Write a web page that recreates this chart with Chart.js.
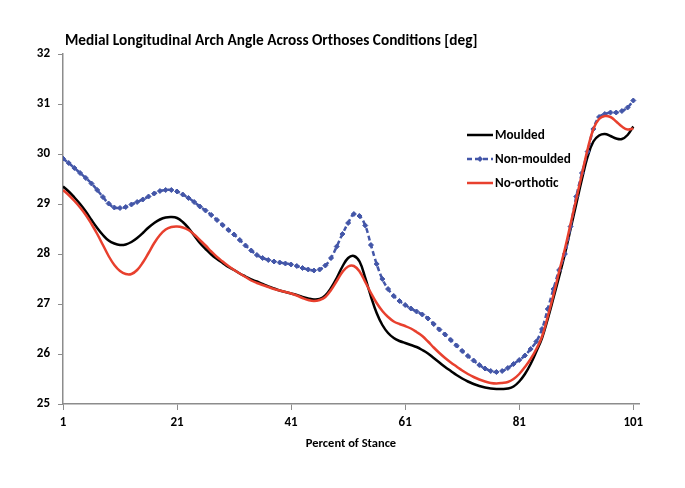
<!DOCTYPE html>
<html>
<head>
<meta charset="utf-8">
<script src="https://cdn.jsdelivr.net/npm/chart.js@4/dist/chart.umd.min.js"></script>
<style>
  html, body { margin: 0; padding: 0; background: #fff; }
  #wrap { width: 685px; height: 488px; }
</style>
</head>
<body>
<div id="wrap"><canvas id="chart" width="685" height="488"></canvas></div>
<script>
// Percent of stance, 1..101
const stance = Array.from({ length: 101 }, (_, i) => i + 1);
const xTickLabels = [1, 21, 41, 61, 81, 101];
const yTickRange = [25, 32];

const moulded = [
  29.35, 29.25, 29.13, 29.00, 28.85, 28.68, 28.52, 28.38, 28.27, 28.21,
  28.18, 28.19, 28.24, 28.32, 28.42, 28.53, 28.62, 28.69, 28.73, 28.74,
  28.72, 28.64, 28.52, 28.37, 28.22, 28.10, 27.99, 27.90, 27.82, 27.74,
  27.68, 27.61, 27.55, 27.49, 27.45, 27.40, 27.35, 27.31, 27.27, 27.24,
  27.21, 27.18, 27.14, 27.11, 27.09, 27.10, 27.17, 27.32, 27.52, 27.75,
  27.92, 27.96, 27.85, 27.52, 27.15, 26.82, 26.58, 26.42, 26.32, 26.26,
  26.22, 26.18, 26.14, 26.08, 26.01, 25.92, 25.83, 25.74, 25.66, 25.58,
  25.51, 25.45, 25.40, 25.36, 25.33, 25.31, 25.30, 25.30, 25.31, 25.35,
  25.45, 25.60, 25.80, 26.05, 26.32, 26.70, 27.12, 27.55, 28.00, 28.50,
  29.00, 29.50, 29.95, 30.25, 30.37, 30.40, 30.36, 30.31, 30.30, 30.38,
  30.55
];

const nonMoulded = [
  29.91, 29.82, 29.72, 29.62, 29.52, 29.41, 29.28, 29.14, 29.01, 28.93,
  28.92, 28.94, 28.99, 29.04, 29.09, 29.15, 29.21, 29.26, 29.28, 29.28,
  29.25, 29.19, 29.12, 29.04, 28.95, 28.87, 28.78, 28.68, 28.58, 28.48,
  28.39, 28.28, 28.17, 28.07, 27.98, 27.92, 27.88, 27.85, 27.83, 27.81,
  27.79, 27.76, 27.72, 27.69, 27.67, 27.69, 27.77, 27.92, 28.15, 28.40,
  28.62, 28.80, 28.76, 28.57, 28.18, 27.80, 27.50, 27.30, 27.16, 27.06,
  26.98, 26.91, 26.85, 26.79, 26.71, 26.60, 26.49, 26.39, 26.28, 26.17,
  26.06, 25.96, 25.87, 25.78, 25.71, 25.66, 25.64, 25.66, 25.72, 25.80,
  25.88, 25.97, 26.10, 26.25, 26.50, 26.90, 27.30, 27.68, 28.00, 28.55,
  29.15, 29.62, 30.05, 30.50, 30.74, 30.80, 30.83, 30.83, 30.86, 30.93,
  31.07
];

const noOrthotic = [
  29.28, 29.18, 29.06, 28.93, 28.78, 28.60, 28.40, 28.18, 27.96, 27.78,
  27.66, 27.60, 27.60, 27.68, 27.83, 28.02, 28.22, 28.38, 28.49, 28.54,
  28.55, 28.53, 28.48, 28.39, 28.28, 28.17, 28.05, 27.94, 27.85, 27.76,
  27.68, 27.61, 27.54, 27.47, 27.42, 27.38, 27.34, 27.30, 27.27, 27.24,
  27.21, 27.17, 27.12, 27.08, 27.06, 27.08, 27.14, 27.28, 27.46, 27.64,
  27.75, 27.76, 27.65, 27.44, 27.22, 27.02, 26.86, 26.74, 26.65, 26.60,
  26.56, 26.51, 26.44, 26.36, 26.25, 26.13, 26.02, 25.92, 25.83, 25.75,
  25.67, 25.60, 25.54, 25.49, 25.45, 25.42, 25.41, 25.42, 25.44, 25.50,
  25.60, 25.74, 25.90, 26.10, 26.35, 26.75, 27.18, 27.65, 28.10, 28.60,
  29.10, 29.60, 30.10, 30.50, 30.70, 30.76, 30.74, 30.65, 30.55, 30.49,
  30.51
];

const FONT = "Calibri, Carlito, 'Liberation Sans Narrow', 'DejaVu Sans Condensed', 'Noto Sans', sans-serif";
const AXIS_GREY = '#8c8c8c';
const BLUE = '#4356a8';
const RED = '#e8402e';

const toPoints = (vals) => vals.map((v, i) => ({ x: stance[i], y: v }));

// Title drawn above the plot, left aligned with the y axis
const titlePlugin = {
  id: 'leftTitle',
  afterDraw(chart) {
    const ctx = chart.ctx;
    ctx.save();
    ctx.font = "bold 15.3px " + FONT;
    ctx.fillStyle = '#000';
    ctx.textBaseline = 'middle';
    ctx.fillText('Medial Longitudinal Arch Angle Across Orthoses Conditions [deg]', 65, 41);
    ctx.restore();
  }
};

// Legend sitting inside the plot, like the Excel original
const innerLegend = {
  id: 'innerLegend',
  afterDraw(chart) {
    const ctx = chart.ctx;
    const x0 = 467, x1 = 493;
    const rows = [135, 159, 183];
    ctx.save();
    ctx.font = "bold 13.2px " + FONT;
    ctx.textBaseline = 'middle';
    chart.data.datasets.forEach((ds, i) => {
      const y = rows[i];
      ctx.strokeStyle = ds.borderColor;
      ctx.lineWidth = ds.borderWidth;
      ctx.setLineDash(ds.borderDash || []);
      ctx.beginPath();
      ctx.moveTo(x0, y);
      ctx.lineTo(x1, y);
      ctx.stroke();
      ctx.setLineDash([]);
      if (ds.pointRadius > 0) {
        ctx.fillStyle = ds.borderColor;
        const cx = (x0 + x1) / 2, r = ds.pointRadius + 0.5;
        ctx.beginPath();
        ctx.moveTo(cx, y - r); ctx.lineTo(cx + r, y); ctx.lineTo(cx, y + r); ctx.lineTo(cx - r, y);
        ctx.closePath();
        ctx.fill();
      }
      ctx.fillStyle = '#000';
      ctx.fillText(ds.label, x1 + 2, y + 1);
    });
    ctx.restore();
  }
};

new Chart(document.getElementById('chart'), {
  type: 'line',
  data: {
    datasets: [
      {
        label: 'Moulded',
        data: toPoints(moulded),
        borderColor: '#000',
        borderWidth: 2.5,
        pointRadius: 0,
        tension: 0.4,
        order: 3
      },
      {
        label: 'Non-moulded',
        data: toPoints(nonMoulded),
        borderColor: BLUE,
        backgroundColor: BLUE,
        borderWidth: 2.5,
        borderDash: [5, 3],
        pointStyle: 'rectRot',
        pointRadius: 2.5,
        pointBorderWidth: 1,
        tension: 0.4,
        order: 2
      },
      {
        label: 'No-orthotic',
        data: toPoints(noOrthotic),
        borderColor: RED,
        borderWidth: 2.5,
        pointRadius: 0,
        tension: 0.4,
        order: 1
      }
    ]
  },
  options: {
    responsive: false,
    animation: false,
    layout: { padding: { top: 54, right: 46, bottom: 37, left: 0 } },
    plugins: {
      legend: { display: false },
      title: { display: false },
      tooltip: { enabled: false }
    },
    scales: {
      x: {
        type: 'linear',
        min: 1,
        max: 102,
        afterBuildTicks: (scale) => { scale.ticks = xTickLabels.map(v => ({ value: v })); },
        afterFit: (scale) => { scale.height = 47; },
        grid: {
          drawOnChartArea: false,
          drawTicks: true,
          tickLength: 6,
          color: AXIS_GREY
        },
        border: { color: AXIS_GREY, width: 1.5 },
        ticks: {
          color: '#000',
          font: { family: FONT, size: 13, weight: 'bold' },
          padding: 5,
          maxRotation: 0,
          autoSkip: false
        },
        title: {
          display: true,
          text: 'Percent of Stance',
          color: '#000',
          font: { family: FONT, size: 12.5, weight: 'bold' },
          padding: { top: 2, bottom: 0 }
        }
      },
      y: {
        min: yTickRange[0],
        max: yTickRange[1],
        afterFit: (scale) => { scale.width = 63; },
        grid: {
          drawOnChartArea: false,
          drawTicks: true,
          tickLength: 5,
          color: AXIS_GREY
        },
        border: { color: AXIS_GREY, width: 1.5 },
        ticks: {
          stepSize: 1,
          color: '#000',
          font: { family: FONT, size: 13, weight: 'bold' },
          padding: 8
        }
      }
    }
  },
  plugins: [titlePlugin, innerLegend]
});
</script>
</body>
</html>
